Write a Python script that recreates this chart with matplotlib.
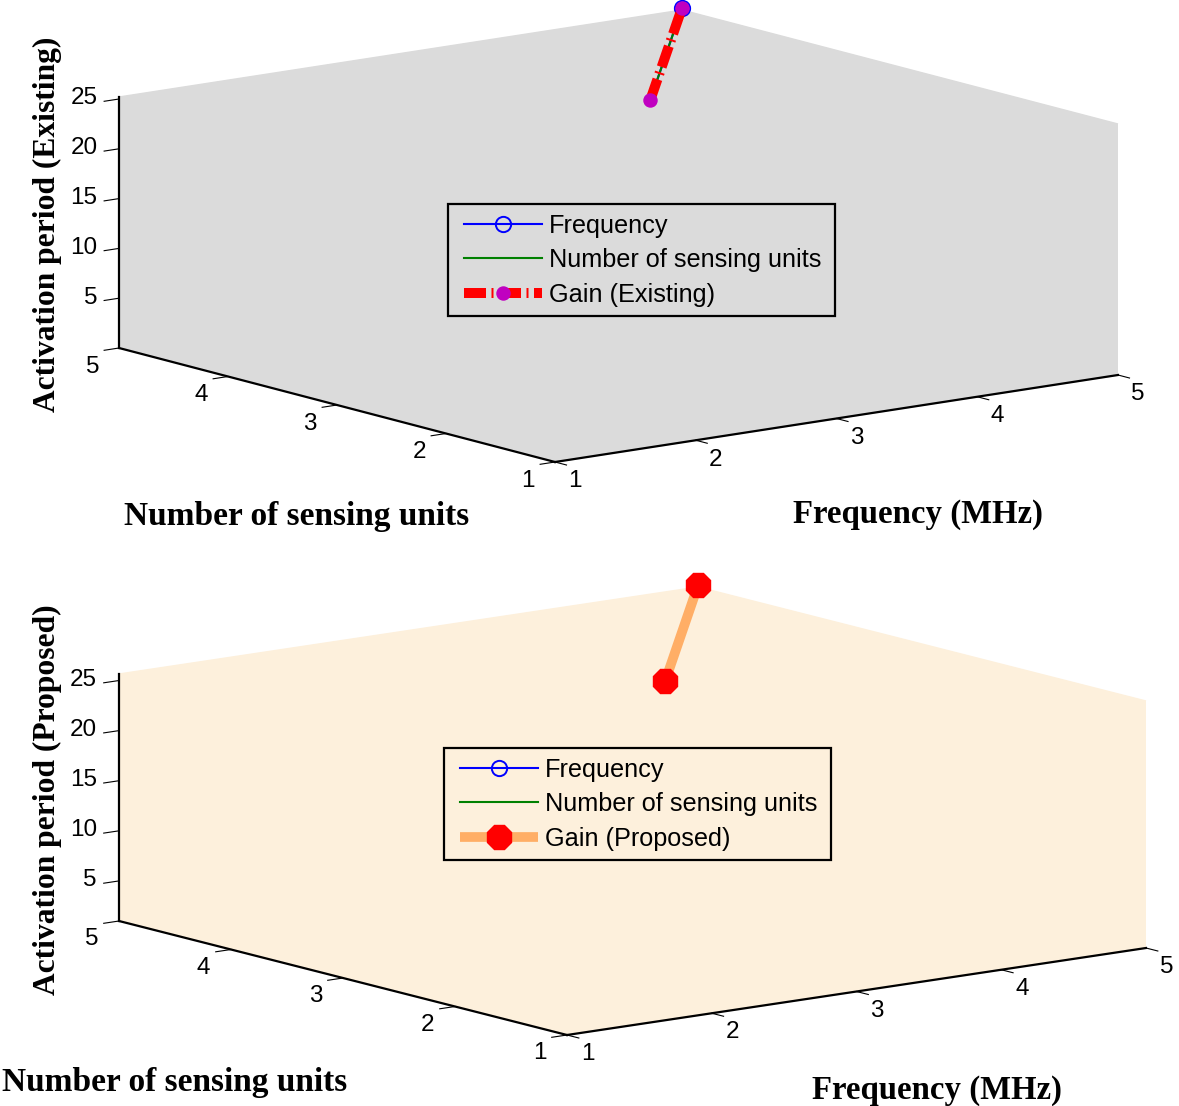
import numpy as np
import matplotlib
matplotlib.use("Agg")
import matplotlib.pyplot as plt
from matplotlib.lines import Line2D
from matplotlib.legend_handler import HandlerLine2D
from mpl_toolkits.mplot3d import Axes3D  # noqa

W, H = 1179, 1106

# ---- data ----
frequency = [4, 5]
sensing_units = [4, 5]
gain_existing = [21.2, 25.4]
gain_proposed = [21.3, 25.8]
ticks_xy = [1, 2, 3, 4, 5]
ticks_z = [5, 10, 15, 20, 25]
zlim_existing = (0, 25.2)
zlim_proposed = (1, 25.65)
legend_existing = ["Frequency", "Number of sensing units", "Gain (Existing)"]
legend_proposed = ["Frequency", "Number of sensing units", "Gain (Proposed)"]

plt.rcParams["font.family"] = "Liberation Sans"
fig = plt.figure(figsize=(W / 100, H / 100), dpi=100, facecolor="white")


def panel(origin, fend, nend, ztop_y, zlim, face, zlabel, xlab_xy, ylab_xy, zlab_xy,
          gain, legend_labels, legend_box, proposed):
    S = W
    top = (origin[1] + ztop_y) / 2 - S / 2
    ax = fig.add_axes([0, 1 - (top + S) / H, S / W, S / H], projection="3d",
                      computed_zorder=False)
    ax.set_proj_type("ortho")
    ax.set_facecolor("none")
    ax.patch.set_visible(False)
    ax.set_xlim(1, 5, view_margin=0)
    ax.set_ylim(1, 5, view_margin=0)
    ax.set_zlim(*zlim, view_margin=0)
    vx0, vx1 = ax.viewLim.intervalx
    vy0, vy1 = ax.viewLim.intervaly
    kx = (vx1 - vx0) / S
    ky = (vy1 - vy0) / S

    def X(px):
        return vx0 + px * kx

    def Y(py):
        return vy0 + (top + S - py) * ky

    ox, oy = X(origin[0]), Y(origin[1])
    fx, fy = (X(fend[0]) - ox) / 4, (Y(fend[1]) - oy) / 4
    nx, ny = (X(nend[0]) - ox) / 4, (Y(nend[1]) - oy) / 4
    zy = (Y(ztop_y) - Y(nend[1])) / (zlim[1] - zlim[0])
    M = np.array([
        [fx, nx, 0, ox - fx - nx],
        [fy, ny, zy, oy - fy - ny - zy * zlim[0]],
        [0.1, 0.1, -0.02, 0.0],
        [0, 0, 0, 1.0],
    ])
    ax.get_proj = lambda: M

    for axis in (ax.xaxis, ax.yaxis, ax.zaxis):
        axis.set_pane_color(face)
        axis.pane.set_edgecolor(face)
        axis.pane.set_linewidth(1.0)
        axis.line.set_color("black")
        axis.line.set_linewidth(1.6)
        axis._axinfo["tick"]["inward_factor"] = 0.33
        axis._axinfo["tick"]["outward_factor"] = 0.0
    ax.grid(False)
    ax.set_xticks(ticks_xy)
    ax.set_yticks(ticks_xy)
    ax.set_zticks(ticks_z)
    ax.tick_params(axis="x", labelsize=17.5, colors="black", width=1.2, pad=12.5)
    ax.tick_params(axis="y", labelsize=17.5, colors="black", width=1.2, pad=13)
    ax.tick_params(axis="z", labelsize=17.5, colors="black", width=1.2, pad=1.5)
    plt.setp(ax.get_zticklabels(), ha="right", va="center")
    plt.setp(ax.get_xticklabels(), va="center_baseline")
    plt.setp(ax.get_yticklabels(), va="center_baseline")

    ax.plot(frequency, sensing_units, gain, color="#0000FF", lw=1.5, marker="o",
            ms=11, mfc="none", mew=1.4, markevery=[-1], label=legend_labels[0], zorder=3)
    ax.plot(frequency, sensing_units, gain, color="#008000", lw=1.5,
            label=legend_labels[1], zorder=4)
    if proposed:
        ax.plot(frequency, sensing_units, gain, color="#FFAE66", lw=7, marker="8",
                ms=19, mfc="#FF0000", mec="#FF0000", label=legend_labels[2], zorder=5,
                solid_capstyle="butt")
    else:
        ax.plot(frequency, sensing_units, gain, color="#FF0000", lw=7.2,
                ls=(0, (2.2, 0.55, 0.2, 0.55)), dash_capstyle="butt", marker="o",
                ms=9.4, mfc="#C000C0", mec="#C000C0", label=legend_labels[2], zorder=5)

    x0, y0, x1, y1 = legend_box
    leg = ax.legend(loc="upper left",
                    bbox_to_anchor=(x0 / W, 1 - y1 / H, (x1 - x0) / W, (y1 - y0) / H),
                    bbox_transform=fig.transFigure, mode="expand", borderaxespad=0,
                    fontsize=18.2, fancybox=False, framealpha=1, facecolor=face,
                    edgecolor="black", handlelength=3.35, handletextpad=0.28,
                    labelspacing=0.42, borderpad=0.38,
                    handler_map={Line2D: HandlerLine2D(xpad=0.25)})
    leg.get_frame().set_linewidth(1.6)
    leg.set_zorder(20)

    fig.text(xlab_xy[0] / W, 1 - xlab_xy[1] / H, "Frequency (MHz)", family="Liberation Serif",
             weight="bold", fontsize=23.6, ha="center", va="center")
    fig.text(ylab_xy[0] / W, 1 - ylab_xy[1] / H, "Number of sensing units", family="Liberation Serif",
             weight="bold", fontsize=24, ha="center", va="center")
    fig.text(zlab_xy[0] / W, 1 - zlab_xy[1] / H, zlabel, family="Liberation Serif",
             weight="bold", fontsize=22.7, ha="center", va="center", rotation=90)
    return ax


panel((555, 462), (1118, 375), (119, 348), 97, zlim_existing, "#DBDBDB",
      "Activation period (Existing)",
      (918, 514), (297, 516), (47, 224), gain_existing, legend_existing,
      (448, 204, 835, 316), False)
panel((567, 1035), (1146, 948), (119, 921), 674, zlim_proposed, "#FDF0DC",
      "Activation period (Proposed)",
      (937, 1090), (175, 1083), (47, 800), gain_proposed, legend_proposed,
      (444, 748, 831, 858), True)

fig.savefig("out.png", dpi=100)
